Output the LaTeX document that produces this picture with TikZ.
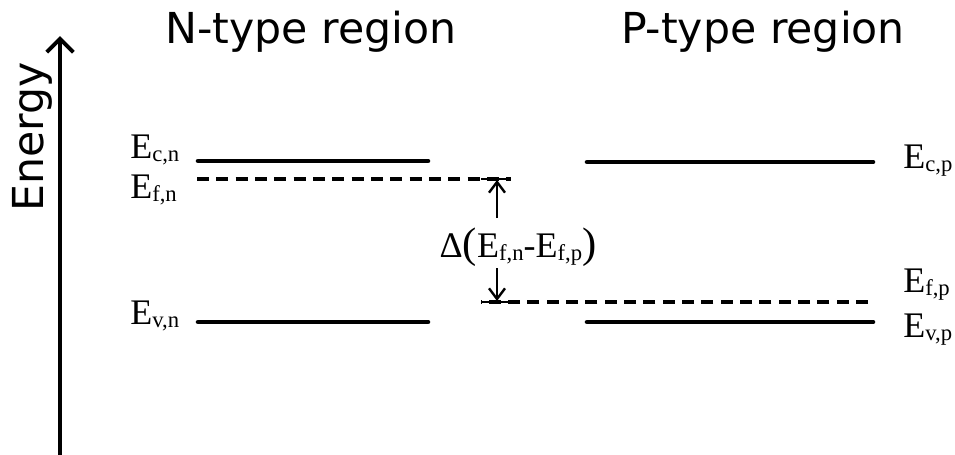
\documentclass[tikz,border=0pt]{standalone}
\usepackage{fontspec}
\setmainfont{Liberation Serif}
\newfontfamily\titlefont{DejaVu Sans}
\usetikzlibrary{arrows.meta}
\newcommand{\lev}[2]{E\raisebox{-2.5pt}{\fontsize{17}{17}\selectfont #2}}
\newcommand{\bigpar}[1]{{\fontsize{32}{32}\selectfont #1}}
\begin{document}
\begin{tikzpicture}[x=0.75pt,y=-0.75pt,
  title/.style={font=\titlefont\fontsize{32}{32}\selectfont,inner sep=0pt},
  lab/.style={font=\fontsize{27}{27}\selectfont,inner sep=0pt,anchor=base west},
  band/.style={line width=3.4pt,line cap=round},
  fermi/.style={line width=2.4pt,dash pattern=on 9pt off 5.5pt},
  tick/.style={line width=2.2pt},
  dimarrow/.style={line width=1.8pt,-{Straight Barb[length=8pt,width=12pt,line width=1.8pt]}},
  axisarrow/.style={line width=3pt,-{Straight Barb[length=10pt,width=20pt,line width=3pt]}}]
\useasboundingbox (0,0) rectangle (955,454);
% axis
\coordinate (axb) at (60,456);
\coordinate (axt) at (60,36);
\draw[axisarrow] (axb) -- (axt);
\node[title,rotate=90,anchor=base] (energy) at (43,137) {Energy};
% titles
\node[title,anchor=base] (tn) at (311,43) {N-type region};
\node[title,anchor=base] (tp) at (763,43) {P-type region};
% N levels
\coordinate (ecn1) at (198,161); \coordinate (ecn2) at (428,161);
\coordinate (efn1) at (197,179); \coordinate (efn2) at (511,179);
\coordinate (evn1) at (198,322); \coordinate (evn2) at (428,322);
% P levels
\coordinate (ecp1) at (587,162); \coordinate (ecp2) at (873,162);
\coordinate (efp1) at (481,302); \coordinate (efp2) at (868,302);
\coordinate (evp1) at (587,322); \coordinate (evp2) at (873,322);
\draw[band] (ecn1) -- (ecn2);
\draw[band] (evn1) -- (evn2);
\draw[band] (ecp1) -- (ecp2);
\draw[band] (evp1) -- (evp2);
\draw[fermi] (efn1) -- (efn2);
\draw[fermi] (efp2) -- (efp1);
\coordinate (tk1) at (481,179);
\coordinate (tk2) at (481,302); \coordinate (tk3) at (511,302);
\draw[tick] (tk1) -- (efn2);
\draw[tick] (tk2) -- (tk3);
% labels
\node[lab] (lecn) at (130,158) {\lev{E}{c,n}};
\node[lab] (lefn) at (130,198) {\lev{E}{f,n}};
\node[lab] (levn) at (130,324) {\lev{E}{v,n}};
\node[lab] (lecp) at (903,168) {\lev{E}{c,p}};
\node[lab] (lefp) at (903,292) {\lev{E}{f,p}};
\node[lab] (levp) at (903,337) {\lev{E}{v,p}};
% delta
\node[font=\fontsize{27}{27}\selectfont,inner sep=0pt,anchor=base] (dl) at (518,257) {Δ\bigpar{(}\lev{E}{f,n}-\lev{E}{f,p}\bigpar{)}};
\coordinate (au) at (497,218);
\coordinate (at) at (497,180);
\coordinate (ad) at (497,268);
\coordinate (ab) at (497,301);
\draw[dimarrow] (au) -- (at);
\draw[dimarrow] (ad) -- (ab);
\end{tikzpicture}
\end{document}
